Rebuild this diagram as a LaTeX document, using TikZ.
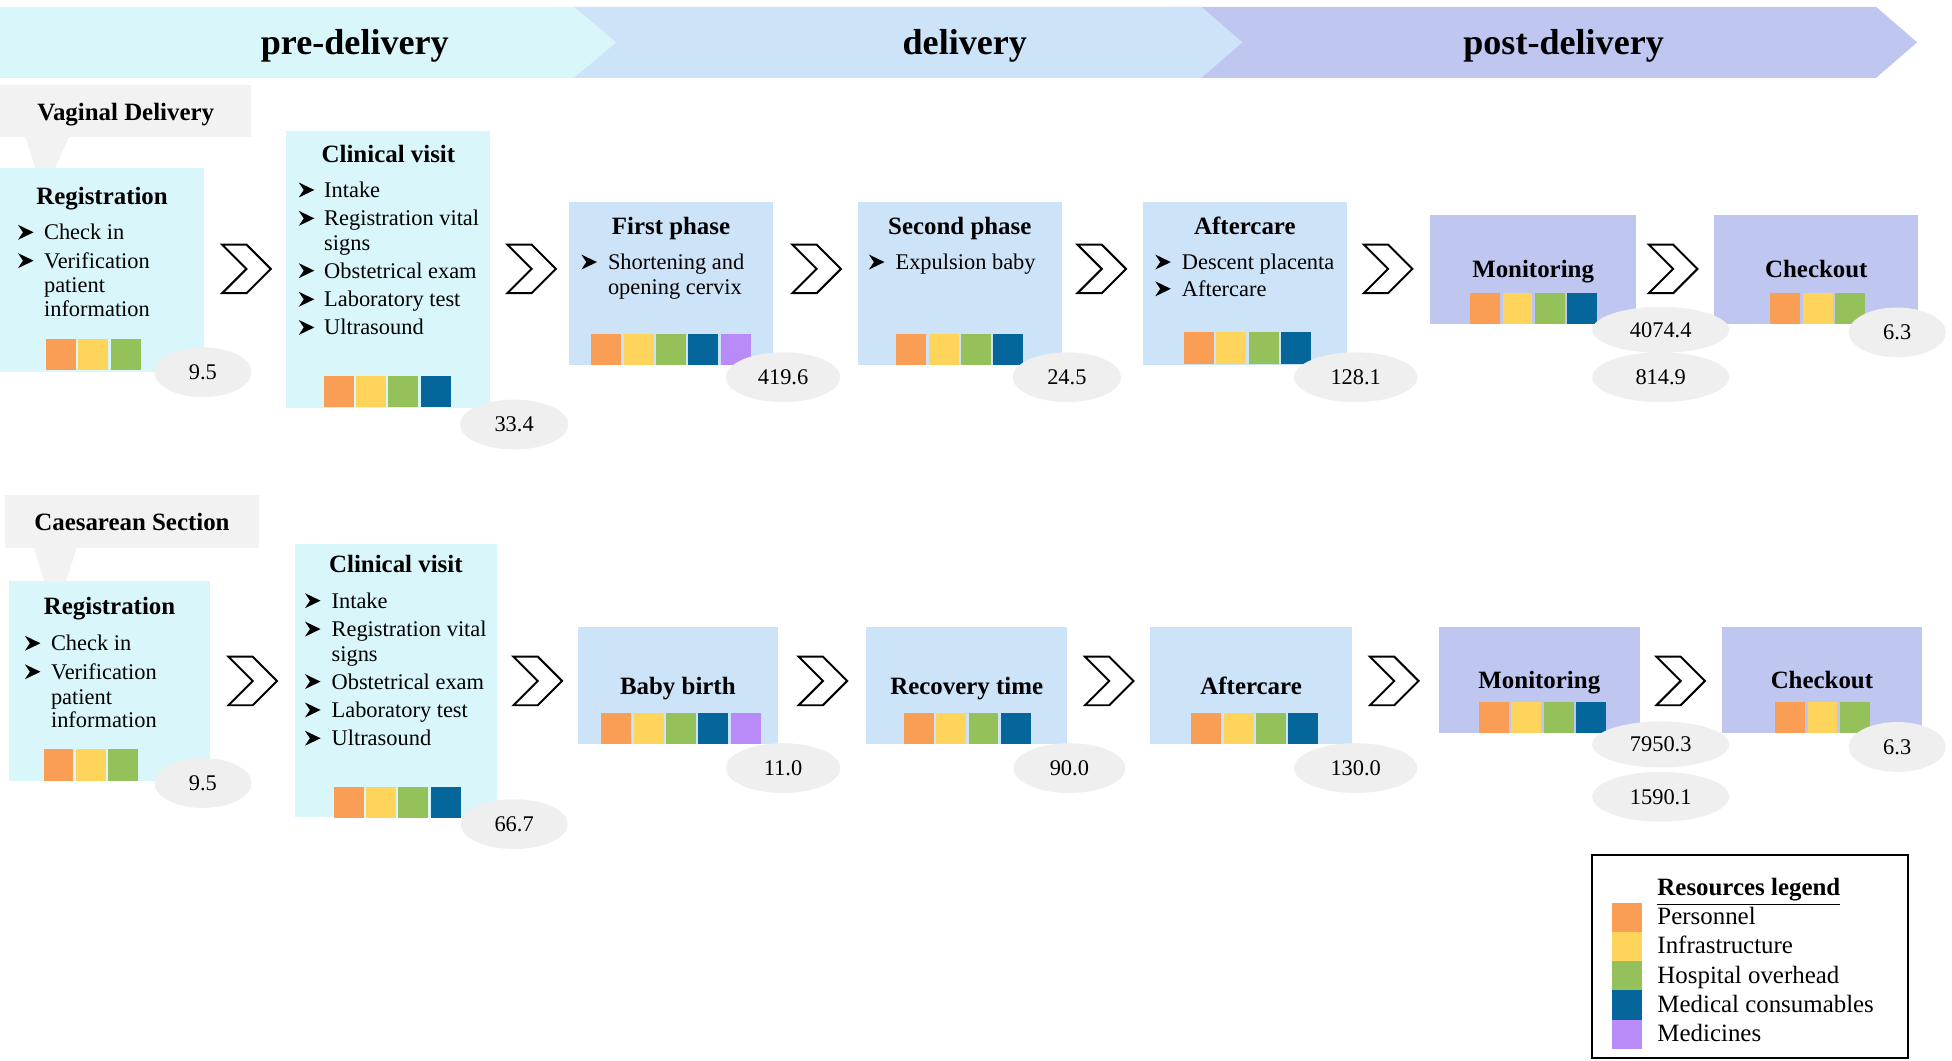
\documentclass[tikz,border=0pt]{standalone}
\usepackage{fontspec}
\setmainfont{Liberation Serif}
\usetikzlibrary{shapes.geometric,shapes.symbols}
\definecolor{col1}{HTML}{FA9D55}
\definecolor{col2}{HTML}{FFD45A}
\definecolor{col3}{HTML}{94C15A}
\definecolor{col4}{HTML}{05669B}
\definecolor{col5}{HTML}{B98BF9}
\definecolor{precol}{HTML}{D9F6FA}
\definecolor{delcol}{HTML}{CDE3F8}
\definecolor{postcol}{HTML}{BFC6F0}
\definecolor{callgray}{HTML}{F2F2F2}
\definecolor{numgray}{HTML}{EFEFEF}
\newcommand\mybox[6]{\node[pbox, fill=#2, minimum width={(#5-#3)*0.5pt}, minimum height={(#6-#4)*0.5pt}] (#1) at (#3,#4) {};}
\newcommand\mysq[3]{\foreach \i in {1,...,#3}{\fill[col\i] ({#1+26*(\i-1)},#2) rectangle ++(24,25);}}
\newcommand\mybul[2]{\fill ({#1},{#2-6}) -- ({#1+12.5},{#2}) -- ({#1},{#2+6}) -- ({#1+4},{#2}) -- cycle;}
\newcommand\myitem[5]{\mybul{#2}{#4}\node[itm] (#1) at (#3,{#4+6}) {#5};}
\newcommand\mycont[4]{\node[itm] (#1) at (#2,{#3+6}) {#4};}
\newcommand\mytitle[4]{\node[ttl] (#1) at (#2,{#3+6}) {#4};}
\begin{document}
\begin{tikzpicture}[x=0.5pt,y=-0.5pt,
  pbox/.style={inner sep=0pt, outer sep=0pt, anchor=north west},
  ttl/.style={font=\fontsize{10}{12}\selectfont\bfseries, inner sep=0pt, anchor=base},
  itm/.style={font=\fontsize{9}{10}\selectfont, inner sep=0pt, anchor=base west},
  bann/.style={font=\fontsize{14.5}{17}\selectfont\bfseries, inner sep=0pt, anchor=base},
  num/.style={ellipse, fill=numgray, inner sep=0pt, font=\fontsize{9}{10}\selectfont},
  chev/.style={signal, signal from=west, signal to=east, draw=black, fill=white, line width=0.8pt, minimum width=19pt, minimum height=19.5pt, inner sep=0pt},
  leg/.style={font=\fontsize{10}{12}\selectfont, inner sep=0pt, anchor=base west}]
\useasboundingbox (0,0) rectangle (1568,852);
% banner
\fill[postcol] (940,5.5) -- (1507,5.5) -- (1540,34) -- (1507,62.5) -- (940,62.5) -- cycle;
\fill[delcol] (440,5.5) -- (965,5.5) -- (998,34) -- (965,62.5) -- (440,62.5) -- cycle;
\fill[precol] (0,5.5) -- (461,5.5) -- (495,34) -- (461,62.5) -- (0,62.5) -- cycle;
\node[bann] (bpre) at (285,44) {pre-delivery};
\node[bann] (bdel) at (775,44) {delivery};
\node[bann] (bpost) at (1256,44) {post-delivery};
% callouts
\fill[callgray] (20,109) -- (56,109) -- (35,155) -- cycle;
\mybox{vdlab}{callgray}{0}{68}{202}{110}
\node[ttl] (vdlabt) at (101,96.5) {Vaginal Delivery};
\fill[callgray] (27,439) -- (62,439) -- (44,495) -- cycle;
\mybox{cslab}{callgray}{4}{398}{208}{440}
\node[ttl] (cslabt) at (106,426) {Caesarean Section};
% ---------- Vaginal delivery row ----------
\mybox{reg1}{precol}{0}{135}{164}{298.5}
\mybox{cv1}{precol}{230}{105}{394}{328}
\mybox{fp1}{delcol}{457}{162}{621}{293}
\mybox{sp1}{delcol}{689}{162}{853}{293}
\mybox{ac1}{delcol}{918}{162}{1082}{293}
\mybox{mo1}{postcol}{1149}{173}{1314}{260}
\mybox{co1}{postcol}{1377}{173}{1541}{260}
\mysq{37}{272}{3}
\mysq{260}{302}{4}
\mysq{475}{268}{5}
\mysq{720}{268}{4}
\mysq{951}{267}{4}
\mysq{1181}{235}{4}
\mysq{1422}{235}{3}
\mytitle{reg1t}{82}{158.5}{Registration}
\myitem{reg1a}{14.5}{35}{186.6}{Check in}
\myitem{reg1b}{14.5}{35}{209.4}{Verification}
\mycont{reg1c}{35}{229}{patient}
\mycont{reg1d}{35}{248.5}{information}
\mytitle{cv1t}{312}{124.5}{Clinical visit}
\myitem{cv1a}{240}{260}{152.6}{Intake}
\myitem{cv1b}{240}{260}{175.4}{Registration vital}
\mycont{cv1c}{260}{195.4}{signs}
\myitem{cv1d}{240}{260}{217.4}{Obstetrical exam}
\myitem{cv1e}{240}{260}{240.4}{Laboratory test}
\myitem{cv1f}{240}{260}{263}{Ultrasound}
\mytitle{fp1t}{539}{182}{First phase}
\myitem{fp1a}{467}{488}{210.5}{Shortening and}
\mycont{fp1b}{488}{230.4}{opening cervix}
\mytitle{sp1t}{771}{182}{Second phase}
\myitem{sp1a}{698}{719}{210.5}{Expulsion baby}
\mytitle{ac1t}{1000}{182}{Aftercare}
\myitem{ac1a}{928}{949}{210.5}{Descent placenta}
\myitem{ac1b}{928}{949}{232}{Aftercare}
\mytitle{mo1t}{1231.5}{217}{Monitoring}
\mytitle{co1t}{1459}{217}{Checkout}
% ---------- Caesarean row ----------
\mybox{reg2}{precol}{7}{467}{169}{627}
\mybox{cv2}{precol}{237}{437}{399}{656}
\mybox{bb2}{delcol}{464}{504}{625}{598}
\mybox{rt2}{delcol}{696}{504}{857}{598}
\mybox{ac2}{delcol}{924}{504}{1086}{598}
\mybox{mo2}{postcol}{1156}{504}{1317}{589}
\mybox{co2}{postcol}{1383}{504}{1544}{589}
\mysq{35}{602}{3}
\mysq{268}{632}{4}
\mysq{483}{573}{5}
\mysq{726}{573}{4}
\mysq{957}{573}{4}
\mysq{1188}{564}{4}
\mysq{1426}{564}{3}
\mytitle{reg2t}{88}{488}{Registration}
\myitem{reg2a}{20}{40.6}{516.7}{Check in}
\myitem{reg2b}{20}{40.6}{539.6}{Verification}
\mycont{reg2c}{40.6}{559.6}{patient}
\mycont{reg2d}{40.6}{578.3}{information}
\mytitle{cv2t}{318}{454}{Clinical visit}
\myitem{cv2a}{245}{266}{482.5}{Intake}
\myitem{cv2b}{245}{266}{505.3}{Registration vital}
\mycont{cv2c}{266}{525.3}{signs}
\myitem{cv2d}{245}{266}{547.5}{Obstetrical exam}
\myitem{cv2e}{245}{266}{570.3}{Laboratory test}
\myitem{cv2f}{245}{266}{593}{Ultrasound}
\mytitle{bb2t}{544.5}{552}{Baby birth}
\mytitle{rt2t}{776.5}{552}{Recovery time}
\mytitle{ac2t}{1005}{552}{Aftercare}
\mytitle{mo2t}{1236.5}{547}{Monitoring}
\mytitle{co2t}{1463.5}{547}{Checkout}
% chevrons
\node[chev] (ch1) at (198,216) {};
\node[chev] (ch2) at (427,216) {};
\node[chev] (ch3) at (656,216) {};
\node[chev] (ch4) at (885,216) {};
\node[chev] (ch5) at (1115,216) {};
\node[chev] (ch6) at (1344,216) {};
\node[chev] (ch7) at (203,547) {};
\node[chev] (ch8) at (432,547) {};
\node[chev] (ch9) at (661,547) {};
\node[chev] (ch10) at (891,547) {};
\node[chev] (ch11) at (1120,547) {};
\node[chev] (ch12) at (1350,547) {};
% numbers
\node[num, minimum width=39pt, minimum height=20pt] (e1) at (163,299) {9.5};
\node[num, minimum width=43.5pt, minimum height=20pt] (e2) at (413,341) {33.4};
\node[num, minimum width=46pt, minimum height=20pt] (e3) at (629,303) {419.6};
\node[num, minimum width=43.5pt, minimum height=20pt] (e4) at (857,303) {24.5};
\node[num, minimum width=49.5pt, minimum height=20pt] (e5) at (1089,303) {128.1};
\node[num, minimum width=55pt, minimum height=18.5pt] (e6) at (1334,265) {4074.4};
\node[num, minimum width=55pt, minimum height=20pt] (e7) at (1334,303) {814.9};
\node[num, minimum width=39pt, minimum height=20pt] (e8) at (1524,267) {6.3};
\node[num, minimum width=39pt, minimum height=20pt] (e9) at (163,629) {9.5};
\node[num, minimum width=43pt, minimum height=20pt] (e10) at (413,662) {66.7};
\node[num, minimum width=46pt, minimum height=20pt] (e11) at (629,617) {11.0};
\node[num, minimum width=45pt, minimum height=20pt] (e12) at (859,617) {90.0};
\node[num, minimum width=49.5pt, minimum height=20pt] (e13) at (1089,617) {130.0};
\node[num, minimum width=55pt, minimum height=18.5pt] (e14) at (1334,598) {7950.3};
\node[num, minimum width=55pt, minimum height=20pt] (e15) at (1334,640) {1590.1};
\node[num, minimum width=39pt, minimum height=20pt] (e16) at (1524,600) {6.3};
% legend
\node[pbox, draw=black, line width=0.8pt, minimum width=127pt, minimum height=81.5pt] (legbox) at (1279,687) {};
\fill[col1] (1295,725) rectangle (1319,748.5);
\fill[col2] (1295,748.5) rectangle (1319,772);
\fill[col3] (1295,772) rectangle (1319,795.5);
\fill[col4] (1295,795.5) rectangle (1319,819);
\fill[col5] (1295,819) rectangle (1319,842.5);
\node[leg, font=\fontsize{10}{12}\selectfont\bfseries] (legt) at (1331,719) {\underline{Resources legend}};
\node[leg] (leg1) at (1331,743) {Personnel};
\node[leg] (leg2) at (1331,766) {Infrastructure};
\node[leg] (leg3) at (1331,790) {Hospital overhead};
\node[leg] (leg4) at (1331,813) {Medical consumables};
\node[leg] (leg5) at (1331,837) {Medicines};
\end{tikzpicture}
\end{document}
